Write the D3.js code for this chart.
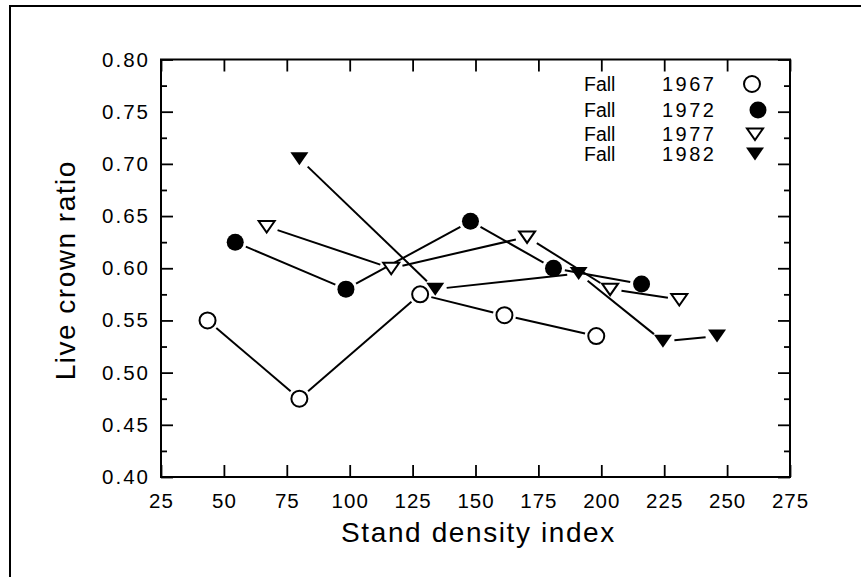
<!DOCTYPE html>
<html>
<head>
<meta charset="utf-8">
<script src="https://cdn.jsdelivr.net/npm/d3@7"></script>
<style>
  html, body { margin: 0; padding: 0; background: #fff; }
  svg text { font-family: "Liberation Sans", Arial, Helvetica, sans-serif; fill: #000; }
</style>
</head>
<body>
<svg id="chart" width="861" height="577"></svg>
<script>
// ---- data ----
const seriesNames = ["1967", "1972", "1977", "1982"];
const x1967 = [43.5, 80, 128, 161.5, 198];
const y1967 = [0.550, 0.475, 0.575, 0.555, 0.535];
const x1972 = [54.5, 98.5, 148, 181, 216];
const y1972 = [0.625, 0.580, 0.645, 0.600, 0.585];
const x1977 = [67, 116.5, 170.5, 203.5, 231];
const y1977 = [0.640, 0.600, 0.630, 0.580, 0.570];
const x1982 = [80, 134, 191, 224.5, 246];
const y1982 = [0.705, 0.580, 0.595, 0.530, 0.535];
const xTicks = [25, 50, 75, 100, 125, 150, 175, 200, 225, 250, 275];
const yTicks = [0.40, 0.45, 0.50, 0.55, 0.60, 0.65, 0.70, 0.75, 0.80];
const yMinorTicks = [0.425, 0.475, 0.525, 0.575, 0.625, 0.675, 0.725, 0.775];
const xTitle = "Stand density index";
const yTitle = "Live crown ratio";
const legendPrefix = "Fall";

// ---- layout ----
const L = 161, R = 790, T = 59.5, B = 477;
const svg = d3.select("#chart");
const x = d3.scaleLinear().domain([25, 275]).range([L, R]);
const y = d3.scaleLinear().domain([0.40, 0.80]).range([B, T]);

// outer frame
svg.append("rect").attr("x", 10).attr("y", 6).attr("width", 900).attr("height", 700)
  .attr("fill", "none").attr("stroke", "#000").attr("stroke-width", 2);

// marker shapes
const markerStyles = {
  "1967": {shape: "circle", fill: "#fff"},
  "1972": {shape: "circle", fill: "#000"},
  "1977": {shape: "tri", fill: "#fff"},
  "1982": {shape: "tri", fill: "#000"}
};
function drawMarker(g, name, cx, cy) {
  const s = markerStyles[name];
  const open = s.fill === "#fff";
  if (s.shape === "circle") {
    g.append("circle").attr("cx", cx).attr("cy", cy).attr("r", open ? 8 : 8.5)
      .attr("fill", s.fill).attr("stroke", "#000").attr("stroke-width", open ? 2 : 0);
  } else {
    const w = open ? 8 : 9, h1 = open ? 5.5 : 6.5, h2 = open ? 6 : 6.5;
    const p = d3.path();
    p.moveTo(cx - w, cy - h1); p.lineTo(cx + w, cy - h1); p.lineTo(cx, cy + h2); p.closePath();
    g.append("path").attr("d", p.toString()).attr("fill", s.fill)
      .attr("stroke", "#000").attr("stroke-width", open ? 2 : 0).attr("stroke-linejoin", "miter");
  }
}

// axes (box with inward ticks)
const axG = svg.append("g");
axG.append("g").attr("transform", `translate(0,${B})`)
  .call(d3.axisBottom(x).tickValues(xTicks).tickSizeInner(-12).tickSizeOuter(0).tickFormat(""));
axG.append("g").attr("transform", `translate(0,${T})`)
  .call(d3.axisTop(x).tickValues(xTicks).tickSizeInner(-12).tickSizeOuter(0).tickFormat(""));
axG.append("g").attr("transform", `translate(${L},0)`)
  .call(d3.axisLeft(y).tickValues(yTicks).tickSizeInner(-12).tickSizeOuter(0).tickFormat(""));
axG.append("g").attr("transform", `translate(${L},0)`)
  .call(d3.axisLeft(y).tickValues(yMinorTicks).tickSizeInner(-6).tickSizeOuter(0).tickFormat(""));
axG.append("g").attr("transform", `translate(${R},0)`)
  .call(d3.axisRight(y).tickValues(yTicks).tickSizeInner(-12).tickSizeOuter(0).tickFormat(""));
axG.append("g").attr("transform", `translate(${R},0)`)
  .call(d3.axisRight(y).tickValues(yMinorTicks).tickSizeInner(-6).tickSizeOuter(0).tickFormat(""));
axG.selectAll(".domain").remove();
axG.selectAll(".tick line").attr("stroke", "#000").attr("stroke-width", 1.8);
svg.append("rect").attr("x", L).attr("y", T).attr("width", R - L).attr("height", B - T)
  .attr("fill", "none").attr("stroke", "#000").attr("stroke-width", 2);

// tick labels
svg.append("g").selectAll("text").data(xTicks).join("text")
  .attr("x", d => x(d) + 0.5).attr("y", 508).attr("text-anchor", "middle")
  .attr("font-size", 20.5).attr("letter-spacing", 1).text(d => d);
svg.append("g").selectAll("text").data(yTicks).join("text")
  .attr("x", 150).attr("y", d => y(d) + 7).attr("text-anchor", "end")
  .attr("font-size", 20.5).attr("letter-spacing", 2).text(d => d.toFixed(2));

// titles
svg.append("text").attr("x", (L + R) / 2 + 3).attr("y", 542).attr("text-anchor", "middle")
  .attr("font-size", 28).attr("letter-spacing", 1.6).text(xTitle);
svg.append("text").attr("transform", `translate(75,${(T + B) / 2 + 2}) rotate(-90)`)
  .attr("text-anchor", "middle").attr("font-size", 28).attr("letter-spacing", 1.5).text(yTitle);

// series
const series = [
  {name: "1967", xs: x1967, ys: y1967},
  {name: "1972", xs: x1972, ys: y1972},
  {name: "1977", xs: x1977, ys: y1977},
  {name: "1982", xs: x1982, ys: y1982}
];
const gap = 11.5;
const lineG = svg.append("g");
series.forEach(s => {
  for (let i = 0; i < s.xs.length - 1; i++) {
    const x0 = x(s.xs[i]), y0 = y(s.ys[i]), x1 = x(s.xs[i + 1]), y1 = y(s.ys[i + 1]);
    const dx = x1 - x0, dy = y1 - y0, len = Math.hypot(dx, dy);
    if (len <= 2 * gap) continue;
    const ux = dx / len, uy = dy / len;
    lineG.append("line")
      .attr("x1", x0 + ux * gap).attr("y1", y0 + uy * gap)
      .attr("x2", x1 - ux * gap).attr("y2", y1 - uy * gap)
      .attr("stroke", "#000").attr("stroke-width", 2);
  }
});
const markG = svg.append("g");
series.forEach(s => {
  s.xs.forEach((v, i) => drawMarker(markG, s.name, x(v), y(s.ys[i])));
});

// legend
const legRowY = [84, 110, 134, 154];
const legMarkX = [752, 758, 755, 755];
const legG = svg.append("g");
seriesNames.forEach((n, i) => {
  legG.append("text").attr("x", 584).attr("y", legRowY[i] + 7).attr("font-size", 19.5).text(legendPrefix);
  legG.append("text").attr("x", 662).attr("y", legRowY[i] + 7).attr("font-size", 20)
    .attr("letter-spacing", 2.5).text(n);
  drawMarker(legG, n, legMarkX[i], legRowY[i]);
});
</script>
</body>
</html>
